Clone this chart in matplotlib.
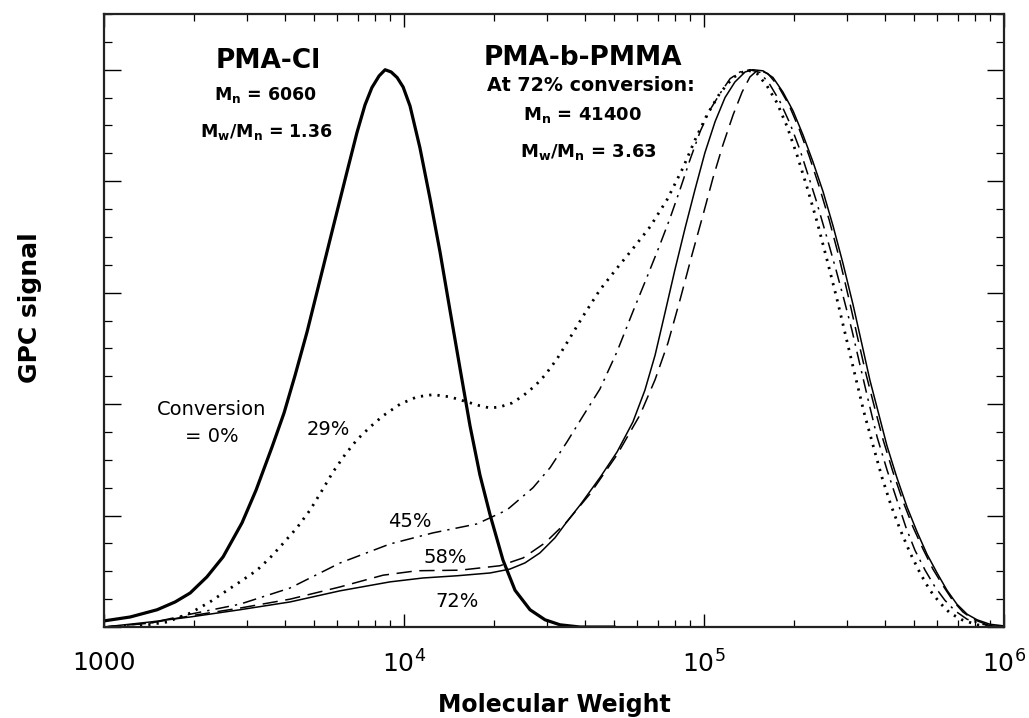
import numpy as np
import matplotlib
matplotlib.use("Agg")
import matplotlib.pyplot as plt
from matplotlib.ticker import FixedLocator, FixedFormatter, MultipleLocator, LogLocator, NullFormatter

plt.rcParams['font.family'] = ['DejaVu Sans']
plt.rcParams['mathtext.fontset'] = 'dejavusans'

# ---- data (log10 of molecular weight, normalized GPC signal) ----
# conversion = 0 % (PMA-Cl macroinitiator)
logmw_0 = [3.000, 3.087, 3.177, 3.237, 3.287, 3.343, 3.397, 3.460, 3.507, 3.560, 3.600, 3.637,
           3.677, 3.720, 3.763, 3.810, 3.843, 3.870, 3.893, 3.917, 3.937, 3.957, 3.977, 3.997,
           4.020, 4.053, 4.087, 4.120, 4.153, 4.187, 4.220, 4.253, 4.287, 4.330, 4.370, 4.420,
           4.470, 4.520, 4.587, 4.700]
sig_0 = [0.011, 0.018, 0.031, 0.045, 0.061, 0.090, 0.126, 0.187, 0.246, 0.323, 0.384, 0.452,
         0.530, 0.623, 0.716, 0.817, 0.887, 0.937, 0.968, 0.989, 1.000, 0.996, 0.986, 0.969,
         0.935, 0.860, 0.768, 0.673, 0.569, 0.463, 0.361, 0.273, 0.201, 0.120, 0.066, 0.031,
         0.013, 0.004, 0.000, 0.000]

# conversion = 29 %
logmw_29 = [3.120, 3.210, 3.287, 3.353, 3.397, 3.453, 3.510, 3.553, 3.587, 3.643, 3.687, 3.720,
            3.763, 3.803, 3.843, 3.887, 3.930, 3.987, 4.043, 4.097, 4.153, 4.210, 4.253, 4.287,
            4.320, 4.360, 4.397, 4.437, 4.470, 4.510, 4.543, 4.597, 4.653, 4.710, 4.763, 4.820,
            4.877, 4.930, 4.970, 5.010, 5.053, 5.097, 5.143,
            5.177, 5.210, 5.243, 5.277, 5.310, 5.343, 5.377, 5.410, 5.443, 5.473, 5.503, 5.533,
            5.563, 5.593, 5.623, 5.653, 5.687, 5.720, 5.753, 5.787, 5.820, 5.860, 5.910, 5.970]
sig_29 = [0.002, 0.009, 0.025, 0.045, 0.061, 0.081, 0.102, 0.124, 0.144, 0.178, 0.210, 0.239,
          0.278, 0.309, 0.336, 0.359, 0.379, 0.400, 0.413, 0.417, 0.413, 0.404, 0.397, 0.393,
          0.395, 0.402, 0.415, 0.433, 0.452, 0.481, 0.510, 0.558, 0.605, 0.644, 0.679, 0.718,
          0.767, 0.824, 0.874, 0.919, 0.958, 0.986, 1.000,
          0.993, 0.971, 0.941, 0.898, 0.847, 0.790, 0.727, 0.659, 0.589, 0.521, 0.453, 0.386,
          0.327, 0.269, 0.219, 0.176, 0.133, 0.097, 0.066, 0.043, 0.025, 0.013, 0.004, 0.000]

# conversion = 45 %
logmw_45 = [3.000, 3.153, 3.287, 3.453, 3.620, 3.787, 3.953, 4.097, 4.243, 4.343, 4.430, 4.487,
            4.543, 4.597, 4.653, 4.710, 4.763, 4.813, 4.853, 4.887, 4.920, 4.953, 4.987, 5.020,
            5.053, 5.087, 5.120, 5.153,
            5.187, 5.220, 5.253, 5.287, 5.320, 5.347, 5.373, 5.407, 5.440, 5.467, 5.493, 5.520,
            5.547, 5.577, 5.610, 5.643, 5.673, 5.703, 5.737, 5.770, 5.803, 5.837, 5.877, 5.927,
            5.987]
sig_45 = [0.000, 0.007, 0.023, 0.041, 0.070, 0.115, 0.149, 0.169, 0.185, 0.210, 0.250, 0.286,
          0.332, 0.379, 0.427, 0.494, 0.566, 0.632, 0.686, 0.734, 0.785, 0.838, 0.889, 0.928,
          0.957, 0.984, 0.996, 1.000,
          0.995, 0.973, 0.943, 0.903, 0.856, 0.811, 0.767, 0.704, 0.641, 0.587, 0.533, 0.470,
          0.408, 0.341, 0.282, 0.228, 0.179, 0.138, 0.102, 0.072, 0.048, 0.029, 0.014, 0.005,
          0.000]

# conversion = 58 %
logmw_58 = [3.000, 3.153, 3.287, 3.453, 3.620, 3.787, 3.930, 4.043, 4.187, 4.320, 4.397, 4.470,
            4.543, 4.620, 4.710, 4.787, 4.837, 4.880, 4.920, 4.960, 4.997, 5.030, 5.063, 5.097,
            5.127, 5.153, 5.180,
            5.213, 5.247, 5.283, 5.317, 5.350, 5.383, 5.417, 5.450, 5.483, 5.513, 5.540, 5.570,
            5.597, 5.630, 5.663, 5.697, 5.730, 5.763, 5.797, 5.830, 5.863, 5.897, 5.940, 6.000]
sig_58 = [0.000, 0.007, 0.020, 0.034, 0.050, 0.072, 0.093, 0.101, 0.102, 0.110, 0.124, 0.151,
          0.189, 0.239, 0.309, 0.381, 0.444, 0.510, 0.587, 0.668, 0.740, 0.806, 0.865, 0.919,
          0.960, 0.987, 1.000,
          0.993, 0.971, 0.937, 0.894, 0.846, 0.792, 0.731, 0.664, 0.589, 0.517, 0.454, 0.391,
          0.336, 0.278, 0.226, 0.179, 0.140, 0.104, 0.074, 0.047, 0.027, 0.014, 0.005, 0.000]

# conversion = 72 %
logmw_72 = [3.000, 3.153, 3.287, 3.453, 3.620, 3.787, 3.953, 4.063, 4.177, 4.287, 4.353, 4.403,
            4.453, 4.503, 4.543, 4.587, 4.653, 4.710, 4.763, 4.803, 4.837, 4.870, 4.903, 4.937,
            4.970, 5.003, 5.037, 5.070, 5.103, 5.137, 5.163,
            5.197, 5.230, 5.263, 5.297, 5.330, 5.363, 5.397, 5.430, 5.463, 5.497, 5.527, 5.553,
            5.583, 5.610, 5.643, 5.677, 5.710, 5.743, 5.777, 5.810, 5.843, 5.877, 5.910, 5.953,
            6.000]
sig_72 = [0.000, 0.009, 0.018, 0.031, 0.045, 0.065, 0.081, 0.088, 0.092, 0.097, 0.104, 0.115,
          0.133, 0.160, 0.189, 0.219, 0.268, 0.314, 0.368, 0.425, 0.488, 0.564, 0.641, 0.716,
          0.785, 0.851, 0.907, 0.950, 0.978, 0.996, 1.000,
          0.998, 0.986, 0.960, 0.926, 0.883, 0.835, 0.781, 0.720, 0.653, 0.578, 0.506, 0.443,
          0.381, 0.325, 0.268, 0.215, 0.171, 0.131, 0.097, 0.066, 0.041, 0.023, 0.013, 0.005,
          0.002]

xtick_values = [1e3, 1e4, 1e5, 1e6]
xtick_labels = ["1000", r"$\mathdefault{10^{4}}$", r"$\mathdefault{10^{5}}$", r"$\mathdefault{10^{6}}$"]

# ---- figure ----
fig = plt.figure(figsize=(10.29, 7.18), dpi=100)
ax = fig.add_axes([0.1011, 0.1267, 0.8746, 0.8538])

ax.plot(10 ** np.array(logmw_0), sig_0, color='black', lw=2.3, solid_joinstyle='round')
ax.plot(10 ** np.array(logmw_29), sig_29, color='black', lw=2.0, linestyle=(0, (0.8, 2.2)))
ax.plot(10 ** np.array(logmw_45), sig_45, color='black', lw=1.1, linestyle=(0, (9, 4, 1.5, 4)))
ax.plot(10 ** np.array(logmw_58), sig_58, color='black', lw=1.1, linestyle=(0, (10, 5)))
ax.plot(10 ** np.array(logmw_72), sig_72, color='black', lw=1.1)

ax.set_xscale('log')
ax.set_xlim(1e3, 1e6)
ax.set_ylim(0, 1.1)

ax.xaxis.set_major_locator(FixedLocator(xtick_values))
ax.xaxis.set_major_formatter(FixedFormatter(xtick_labels))
ax.xaxis.set_minor_locator(LogLocator(base=10, subs=np.arange(2, 10)))
ax.xaxis.set_minor_formatter(NullFormatter())
ax.yaxis.set_major_locator(MultipleLocator(0.2))
ax.yaxis.set_minor_locator(MultipleLocator(0.05))
ax.set_yticklabels([])

ax.tick_params(axis='x', which='major', direction='in', length=9.5, width=1.0,
               top=True, bottom=True, labelsize=18, pad=17)
ax.tick_params(axis='x', which='minor', direction='in', length=5, width=0.9, top=True, bottom=True)
ax.tick_params(axis='y', which='major', direction='in', length=12, width=1.0, left=True, right=True)
ax.tick_params(axis='y', which='minor', direction='in', length=6, width=0.9, left=True, right=True)
for sp in ax.spines.values():
    sp.set_linewidth(1.6)
    sp.set_color('#222222')

ax.set_xlabel("Molecular Weight", fontsize=17, fontweight='bold')
ax.xaxis.set_label_coords(0.5, -0.138)
ax.xaxis.label.set_va('baseline')
fig.text(30 / 1029, 1 - 308 / 718, "GPC signal", rotation=90, fontsize=18, fontweight='bold',
         ha='center', va='center')

tr = ax.transAxes
ax.text(0.182, 0.912, "PMA-Cl", transform=tr, fontsize=19, fontweight='bold', ha='center', va='baseline')
ax.text(0.179, 0.860, r"$\mathbf{M_n}$ = 6060", transform=tr, fontsize=12.5, fontweight='bold',
        ha='center', va='baseline')
ax.text(0.180, 0.799, r"$\mathbf{M_w/M_n}$ = 1.36", transform=tr, fontsize=12.5, fontweight='bold',
        ha='center', va='baseline')

ax.text(0.532, 0.917, "PMA-b-PMMA", transform=tr, fontsize=19, fontweight='bold', ha='center', va='baseline')
ax.text(0.541, 0.874, "At 72% conversion:", transform=tr, fontsize=13.7, fontweight='bold',
        ha='center', va='baseline')
ax.text(0.532, 0.827, r"$\mathbf{M_n}$ = 41400", transform=tr, fontsize=13, fontweight='bold',
        ha='center', va='baseline')
ax.text(0.538, 0.767, r"$\mathbf{M_w/M_n}$ = 3.63", transform=tr, fontsize=13, fontweight='bold',
        ha='center', va='baseline')

ax.text(0.119, 0.346, "Conversion", transform=tr, fontsize=14, ha='center', va='baseline')
ax.text(0.120, 0.302, "= 0%", transform=tr, fontsize=14, ha='center', va='baseline')
ax.text(0.249, 0.313, "29%", transform=tr, fontsize=14, ha='center', va='baseline')
ax.text(0.340, 0.163, "45%", transform=tr, fontsize=14, ha='center', va='baseline')
ax.text(0.379, 0.104, "58%", transform=tr, fontsize=14, ha='center', va='baseline')
ax.text(0.392, 0.033, "72%", transform=tr, fontsize=14, ha='center', va='baseline')

fig.savefig("out.png", dpi=100)
